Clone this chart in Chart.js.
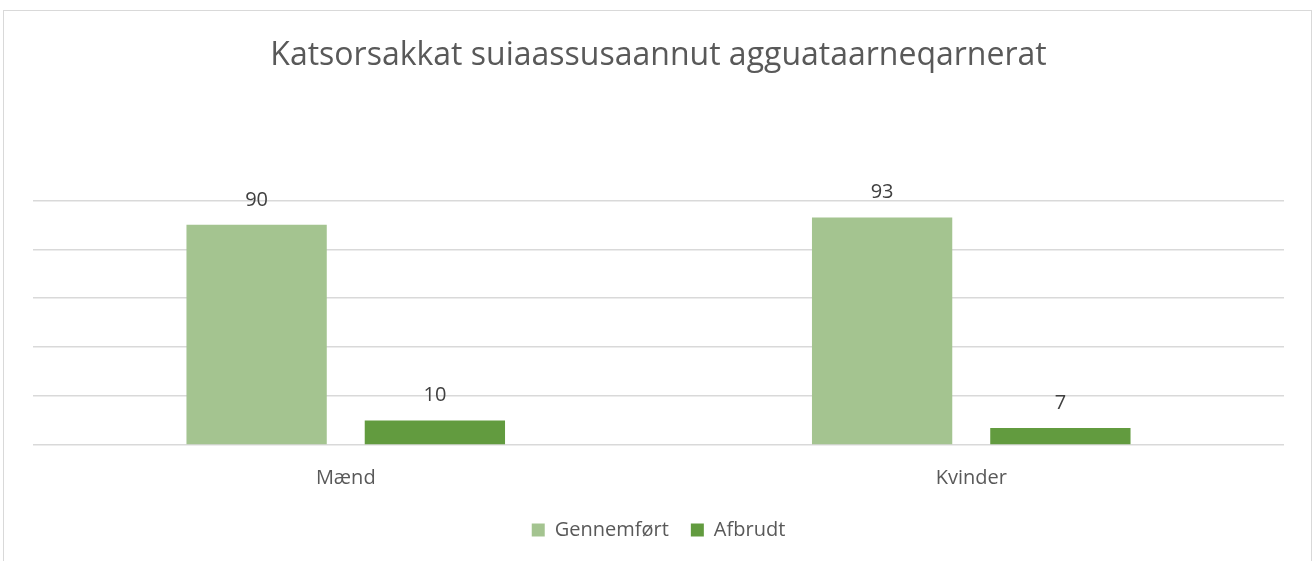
<!DOCTYPE html>
<html>
<head>
<meta charset="utf-8">
<script src="https://cdn.jsdelivr.net/npm/chart.js@4.4.0/dist/chart.umd.min.js"></script>
<style>
  body { margin: 0; background: #fff; }
  #frame { position: absolute; left: 3px; top: 10px; width: 1309px; height: 560px; border: 1px solid #d9d9d9; box-sizing: border-box; }
  #wrap { position: absolute; left: 0; top: 0; width: 1315px; height: 561px; }
</style>
</head>
<body>
<div id="frame"></div>
<div id="wrap"><canvas id="myChart"></canvas></div>
<script>
var titleText = 'Katsorsakkat suiaassusaannut agguataarneqarnerat';
var categories = ['Mænd', 'Kvinder'];
var gennemfort = [90, 93];
var afbrudt = [10, 7];
var seriesNames = ['Gennemført', 'Afbrudt'];

var ctx = document.getElementById('myChart');

// draws the value above every bar
var valueLabels = {
    id: 'valueLabels',
    afterDatasetsDraw: function(chart){
        var c = chart.ctx;
        c.save();
        c.font = '20px "Open Sans"';
        c.fillStyle = '#404040';
        c.textAlign = 'center';
        c.textBaseline = 'middle';
        chart.data.datasets.forEach(function(ds, i){
            var meta = chart.getDatasetMeta(i);
            meta.data.forEach(function(bar, j){
                c.fillText(ds.data[j], bar.x, bar.y - 25);
            });
        });
        c.restore();
    }
};

Chart.defaults.font.family = '"Open Sans"';
Chart.defaults.color = '#595959';

var myChart = new Chart(ctx, {
    type: 'bar',
    data: {
        labels: categories,
        datasets: [{
            label: seriesNames[0],
            data: gennemfort,
            backgroundColor: '#A4C490',
            categoryPercentage: 0.57,
            barPercentage: 0.787
        }, {
            label: seriesNames[1],
            data: afbrudt,
            backgroundColor: '#629B3F',
            categoryPercentage: 0.57,
            barPercentage: 0.787
        }]
    },
    options: {
        responsive: true,
        maintainAspectRatio: false,
        animation: false,
        layout: { padding: { left: 33, right: 31, top: 0, bottom: 11 } },
        plugins: {
            title: {
                display: true,
                text: titleText,
                color: '#595959',
                font: { size: 32, weight: 'normal' },
                padding: { top: 37, bottom: 125 }
            },
            legend: {
                position: 'bottom',
                labels: { boxWidth: 13, boxHeight: 13, padding: 22, font: { size: 20 }, color: '#595959' }
            },
            tooltip: { enabled: false }
        },
        scales: {
            x: {
                grid: { display: false },
                border: { display: false },
                ticks: { font: { size: 20 }, color: '#595959', padding: 13 },
                afterFit: function(s){ s.height = 53; }
            },
            y: {
                min: 0,
                max: 100,
                ticks: { display: false, stepSize: 20 },
                border: { display: false },
                grid: { color: '#d9d9d9', lineWidth: 1.5, drawTicks: false }
            }
        }
    },
    plugins: [valueLabels]
});
</script>
</body>
</html>
